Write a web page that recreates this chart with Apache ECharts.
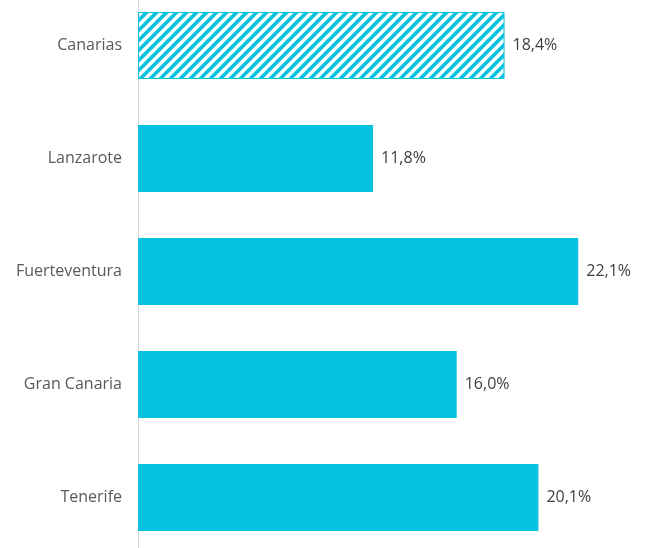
<!DOCTYPE html>
<html><head><meta charset="utf-8">
<script src="https://cdn.jsdelivr.net/npm/echarts@6/dist/echarts.min.js"></script>
<style>html,body{margin:0;padding:0;background:#fff;overflow:hidden}#c{position:absolute;left:0;top:-11px;width:646px;height:565px}</style>
</head><body><div id="c"></div>
<script>
const categories = ['Canarias','Lanzarote','Fuerteventura','Gran Canaria','Tenerife'];
const values = [18.4, 11.8, 22.1, 16.0, 20.1];

const cyan = '#06C2DF';
const T = 10;
const pc = document.createElement('canvas');
pc.width = T; pc.height = T;
const ctx = pc.getContext('2d');
ctx.fillStyle = '#fff'; ctx.fillRect(0,0,T,T);
ctx.strokeStyle = cyan; ctx.lineWidth = 3.6;
ctx.beginPath();
for (const o of [-T, 0, T]) { ctx.moveTo(o - 2, T + 2); ctx.lineTo(o + T + 2, -2); }
ctx.stroke();

const chart = echarts.init(document.getElementById('c'));
chart.setOption({
  animation: false,
  grid: {left: 138, top: 0, width: 498, height: 565, containLabel: false},
  xAxis: {type: 'value', min: 0, max: 25, show: false},
  yAxis: {
    type: 'category', inverse: true, data: categories,
    axisLine: {show: true, lineStyle: {color: '#D9D9D9', width: 1}},
    axisTick: {show: false},
    axisLabel: {color: '#595959', fontSize: 16, fontFamily: 'Open Sans', margin: 16}
  },
  series: [{
    type: 'bar', barWidth: 67,
    data: values.map((v, i) => i === 0 ? {value: v, itemStyle: {color: {image: pc, repeat: 'repeat'}, borderColor: cyan, borderWidth: 1}} : v),
    itemStyle: {color: cyan},
    label: {show: true, position: 'right', distance: 8, color: '#404040', fontSize: 16, fontFamily: 'Open Sans',
      formatter: p => p.value.toFixed(1).replace('.', ',') + '%'}
  }]
});
</script></body></html>
